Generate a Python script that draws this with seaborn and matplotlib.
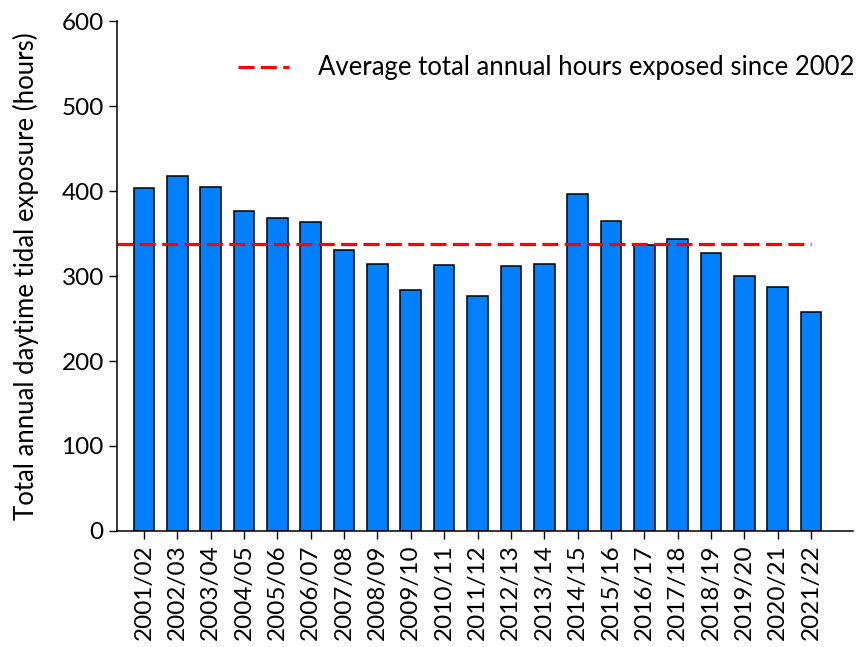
import matplotlib
matplotlib.use("Agg")
import matplotlib.pyplot as plt
import seaborn as sns
import pandas as pd

# %% Datos -------------------------------------------------------------------
seasons = ["2001/02", "2002/03", "2003/04", "2004/05", "2005/06", "2006/07",
           "2007/08", "2008/09", "2009/10", "2010/11", "2011/12", "2012/13",
           "2013/14", "2014/15", "2015/16", "2016/17", "2017/18", "2018/19",
           "2019/20", "2020/21", "2021/22"]
hours = [403, 418, 405, 376, 368, 363, 331, 314, 283, 313, 276, 312,
         314, 396, 365, 336, 344, 327, 300, 287, 258]
avg_hours = 338
avg_label = "Average total annual hours exposed since 2002"

df = pd.DataFrame({"season": seasons, "hours": hours})

# %% Estilo ------------------------------------------------------------------
sns.set_style("white")
plt.rcParams["font.family"] = ["Lato", "DejaVu Sans"]
plt.rcParams["text.color"] = "black"
plt.rcParams["axes.labelcolor"] = "black"

fig = plt.figure(figsize=(8.56, 6.47), dpi=100)
ax = fig.add_axes([0.1367, 0.1793, 0.8598, 0.7882])

sns.barplot(data=df, x="season", y="hours", color="#0080FF", saturation=1,
            width=0.62, edgecolor="black", linewidth=1.1, ax=ax)

# Línea de la media
ax.hlines(avg_hours, xmin=-0.81, xmax=len(seasons) - 1, colors="#FF0000",
          linestyles=(0, (5, 2)), linewidth=2.3, label=avg_label)

ax.set_xlim(-0.81, len(seasons) - 1 + 1.26)
ax.set_ylim(0, 600)
ax.set_yticks(range(0, 601, 100))
ax.set_xlabel("")
ax.set_ylabel("Total annual daytime tidal exposure (hours)", fontsize=18.5,
              labelpad=16)

for s in ["top", "right"]:
    ax.spines[s].set_visible(False)
for s in ["left", "bottom"]:
    ax.spines[s].set_color("black")
    ax.spines[s].set_linewidth(1.1)

ax.tick_params(axis="y", direction="out", length=6, width=1, labelsize=17.5,
               left=True, colors="black")
ax.tick_params(axis="x", direction="out", length=6, width=1, labelsize=17.5,
               bottom=True, colors="black", rotation=90)

ax.legend(loc="center left", bbox_to_anchor=(238 / 856, 1 - 68 / 647),
          bbox_transform=fig.transFigure, frameon=False, fontsize=18.5,
          handlelength=2.0, handletextpad=1.1, borderpad=0, borderaxespad=0)

fig.savefig("out.png", dpi=100)
